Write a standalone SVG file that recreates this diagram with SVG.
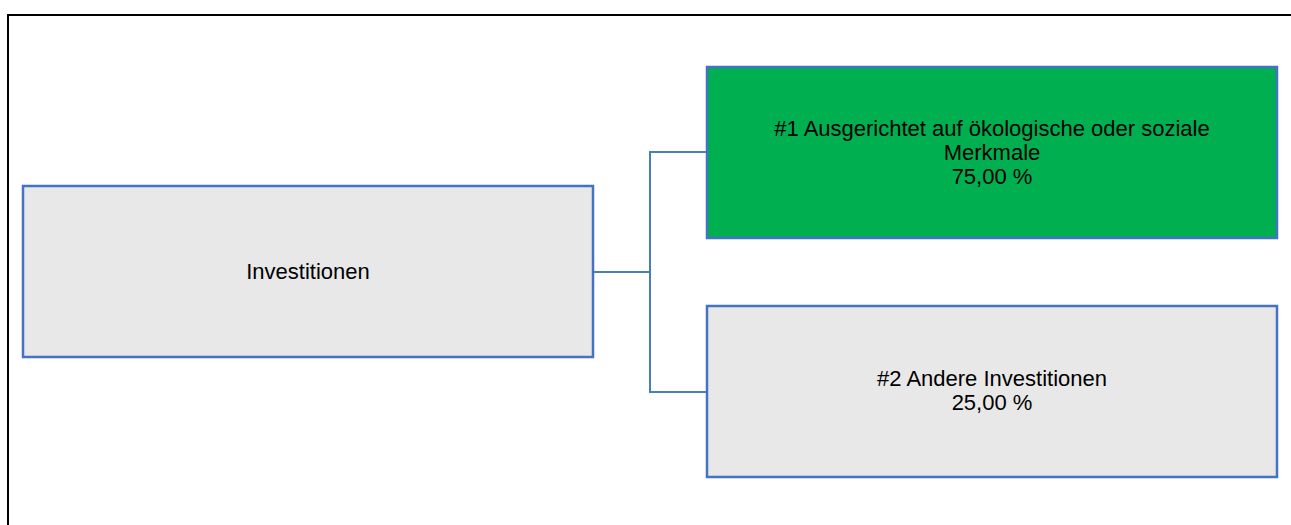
<svg xmlns="http://www.w3.org/2000/svg" width="1291" height="525" viewBox="0 0 1291 525">
<style>
.box{stroke:#4472C4;stroke-width:2.5}
.gray{fill:#E7E8E7}
.green{fill:#00B050}
.lbl{font-family:"Liberation Sans",Arial,sans-serif;font-size:22px;fill:#000;text-anchor:middle}
.conn{fill:none;stroke:#4A7EBB;stroke-width:2}
</style>
<rect width="1291" height="525" fill="#fff"/>
<polyline points="8,525 8,15 1291,15" fill="none" stroke="#000" stroke-width="2"/>
<g id="connectors">
<polyline class="conn" points="593,272 650,272"/>
<polyline class="conn" points="707,152 650,152 650,392 707,392"/>
</g>
<g id="node-investitionen">
<rect class="box gray" x="23" y="186" width="570" height="171"/>
<text class="lbl" x="308" y="279">Investitionen</text>
</g>
<g id="node-1">
<rect class="box green" x="707" y="67" width="570" height="171"/>
<text class="lbl" x="992" y="136">#1 Ausgerichtet auf ökologische oder soziale</text>
<text class="lbl" x="992" y="160">Merkmale</text>
<text class="lbl" x="992" y="184">75,00 %</text>
</g>
<g id="node-2">
<rect class="box gray" x="707" y="306" width="570" height="171"/>
<text class="lbl" x="992" y="386">#2 Andere Investitionen</text>
<text class="lbl" x="992" y="410">25,00 %</text>
</g>
</svg>
